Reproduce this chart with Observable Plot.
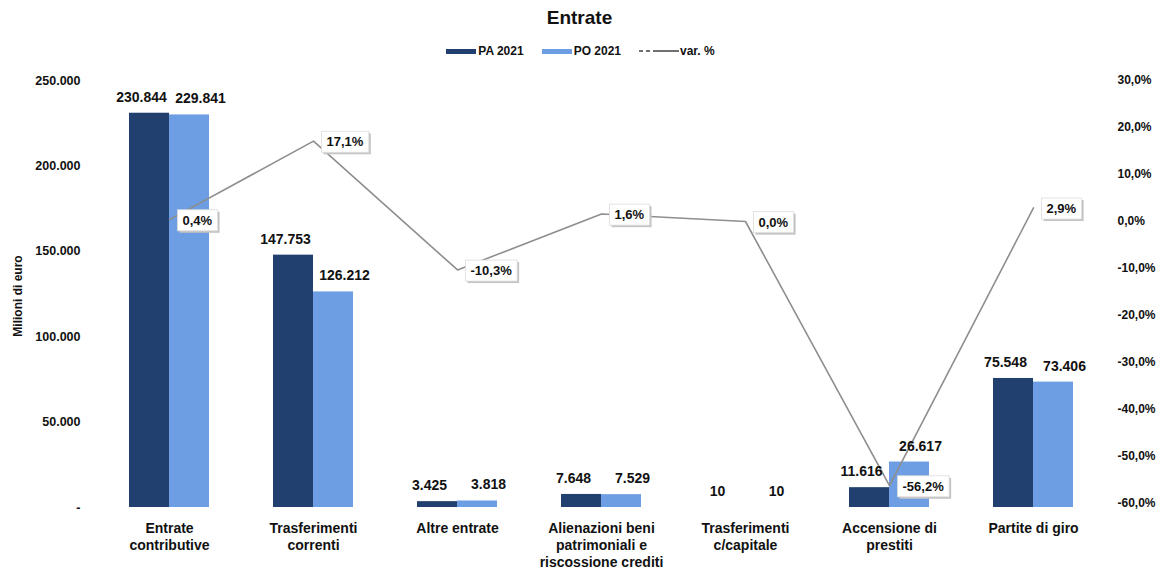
<!DOCTYPE html>
<html>
<head>
<meta charset="utf-8">
<script src="https://cdn.jsdelivr.net/npm/d3@7"></script>
<script src="https://cdn.jsdelivr.net/npm/@observablehq/plot@0.6"></script>
<style>
  body { margin: 0; background: #fff; font-family: Arial, "Liberation Sans", sans-serif; color: #111; }
  #title { height: 36px; line-height: 36px; text-align: center; font-size: 19px; font-weight: bold; padding-right: 6px; }
  #legend { height: 30px; display: flex; justify-content: center; align-items: center; font-size: 12px; font-weight: bold; padding-right: 4px; }
  .sw { display: inline-block; width: 30px; height: 5px; margin-right: 2px; }
  .item { display: flex; align-items: center; margin: 0 9px; }
  svg { display: block; }
</style>
</head>
<body>
<div id="title">Entrate</div>
<div id="legend"></div>
<div id="chart"></div>
<script>
const categories = ["Entrate\ncontributive", "Trasferimenti\ncorrenti", "Altre entrate", "Alienazioni beni\npatrimoniali e\nriscossione crediti", "Trasferimenti\nc/capitale", "Accensione di\nprestiti", "Partite di giro"];
const pa2021 = [230844, 147753, 3425, 7648, 10, 11616, 75548];
const po2021 = [229841, 126212, 3818, 7529, 10, 26617, 73406];
const varPct = [0.4, 17.1, -10.3, 1.6, 0.0, -56.2, 2.9];
const leftTicks = [0, 50000, 100000, 150000, 200000, 250000];
const rightTicks = [30, 20, 10, 0, -10, -20, -30, -40, -50, -60];
const seriesNames = ["PA 2021", "PO 2021", "var. %"];
const yTitle = "Milioni di euro";

const DARK = "#21406f";
const LIGHT = "#6d9de2";
const LINE = "#8e8e8e";

const it = d3.formatLocale({decimal: ",", thousands: ".", grouping: [3], currency: ["", ""], minus: "-"});
const fmtInt = it.format(",.0f");
const fmt1 = it.format(".1f");
const fmtPct = p => fmt1(p) + "%";

// secondary (percent) axis mapped onto the primary y scale
const pctToY = p => (286 + 4.7 * p) * 250000 / 427;
const yToPct = v => Math.round((v * 427 / 250000 - 286) / 4.7);

const rows = categories.map((c, i) => ({cat: c, pa: pa2021[i], po: po2021[i], pct: varPct[i]}));

// legend
const lg = document.getElementById("legend");
lg.innerHTML = `
  <span class="item"><span class="sw" style="background:${DARK}"></span>${seriesNames[0]}</span>
  <span class="item"><span class="sw" style="background:${LIGHT}"></span>${seriesNames[1]}</span>
  <span class="item"><svg width="40" height="8" style="margin-right:1px"><line x1="0" y1="4" x2="4" y2="4" stroke="#333" stroke-width="1.4"/><line x1="7" y1="4" x2="11" y2="4" stroke="#333" stroke-width="1.4"/><line x1="14" y1="4" x2="40" y2="4" stroke="#333" stroke-width="1.4"/></svg>${seriesNames[2]}</span>`;

const chart = Plot.plot({
  width: 1165,
  height: 507,
  marginTop: 14,
  marginBottom: 66,
  marginLeft: 95,
  marginRight: 58,
  style: {fontFamily: "Arial, 'Liberation Sans', sans-serif", fontWeight: "bold", color: "#111", background: "white"},
  x: {domain: categories, paddingInner: 0.447, paddingOuter: 0.2235, axis: null},
  y: {domain: [0, 250000], axis: null},
  marks: [
    Plot.axisX({tickSize: 0, tickPadding: 14, fontSize: 14, lineHeight: 1.2, label: null}),
    Plot.axisY(leftTicks, {anchor: "left", tickSize: 0, tickPadding: 15, fontSize: 12.5,
      tickFormat: d => d === 0 ? "-" : fmtInt(d), label: null}),
    Plot.text([yTitle], {frameAnchor: "left", textAnchor: "middle", text: d => d, rotate: -90, dx: -77, dy: 2, fontSize: 12}),
    Plot.axisY(rightTicks.map(pctToY), {anchor: "right", tickSize: 0, tickPadding: 10, fontSize: 12,
      tickFormat: v => fmtPct(yToPct(v)), label: null}),
    Plot.barY(rows, {x: "cat", y: "pa", fill: DARK, insetRight: 40}),
    Plot.barY(rows, {x: "cat", y: "po", fill: LIGHT, insetLeft: 40}),
    Plot.line(rows, {x: "cat", y: d => pctToY(d.pct), stroke: LINE, strokeWidth: 1.6}),
    Plot.text(rows, {x: "cat", y: "pa", text: d => fmtInt(d.pa), dx: -28, dy: -16, fontSize: 14}),
    Plot.text(rows, {x: "cat", y: "po", text: d => fmtInt(d.po), dx: 31, dy: -16, fontSize: 14}),
    Plot.text(rows, {x: "cat", y: d => pctToY(d.pct), text: d => fmtPct(d.pct), textAnchor: "start", dx: 13, dy: 1, fontSize: 13, ariaDescription: "pct"})
  ]
});
document.getElementById("chart").appendChild(chart);

// white boxes behind the percent labels
let g = chart.querySelector('g[aria-description="pct"]');
if (!g) { const gs = chart.querySelectorAll('g[aria-label="text"]'); g = gs[gs.length - 1]; }
if (g) {
  const NS = "http://www.w3.org/2000/svg";
  g.querySelectorAll("text").forEach(t => {
    const b = t.getBBox();
    const tr = t.getAttribute("transform");
    const mk = (off, fill, stroke) => {
      const r = document.createElementNS(NS, "rect");
      r.setAttribute("x", b.x - 5 + off);
      r.setAttribute("y", b.y - 3 + off);
      r.setAttribute("width", b.width + 10);
      r.setAttribute("height", b.height + 6);
      r.setAttribute("fill", fill);
      if (stroke) { r.setAttribute("stroke", stroke); r.setAttribute("stroke-width", "0.8"); }
      if (tr) r.setAttribute("transform", tr);
      g.insertBefore(r, t);
    };
    mk(2, "#c4c4c4", null);
    mk(0, "#ffffff", "#dcdcdc");
  });
}
</script>
</body>
</html>
